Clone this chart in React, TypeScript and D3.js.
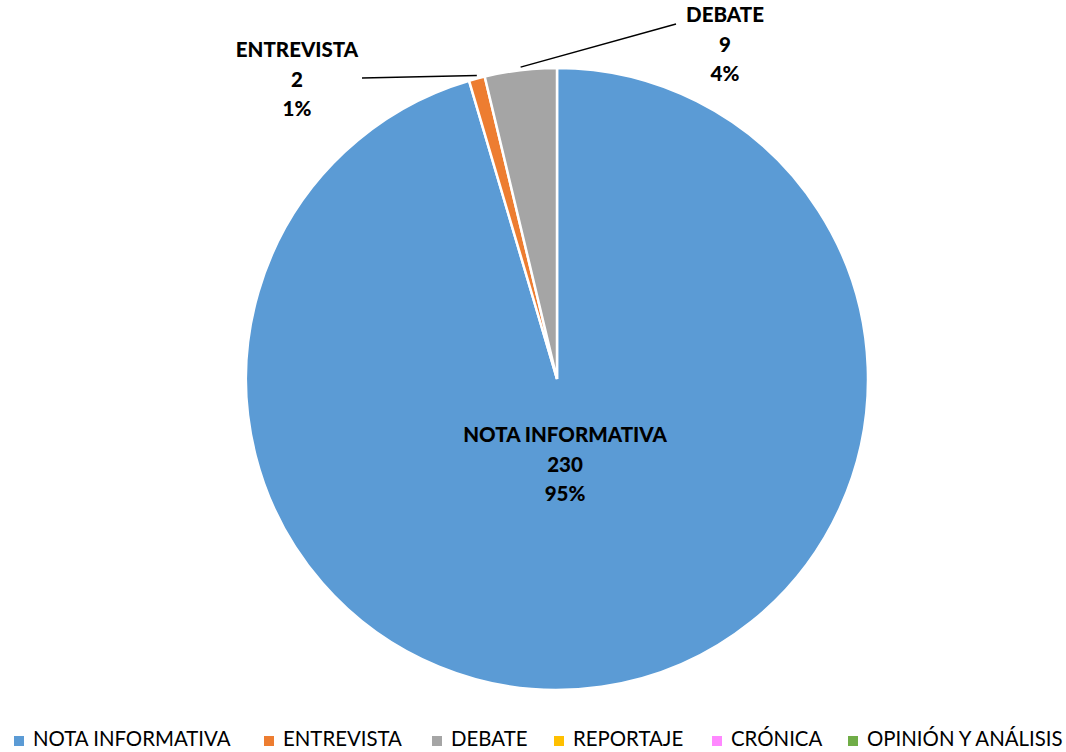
import * as d3 from "d3";
import { FC } from "react";

const categories = ["NOTA INFORMATIVA", "ENTREVISTA", "DEBATE", "REPORTAJE", "CRÓNICA", "OPINIÓN Y ANÁLISIS"];
const values = [230, 2, 9, 0, 0, 0];
const colors = ["#5B9BD5", "#ED7D31", "#A5A5A5", "#FFC000", "#FF88FF", "#70AD47"];

const W = 1066;
const H = 752;
const CX = 557;
const CY = 379;
const R = 311;
const FONT = "Lato, 'Open Sans', sans-serif";

// where the outside labels sit, relative to the pie centre
const labelPos: Record<string, { x: number; y: number; lineEnd: [number, number] }> = {
  ENTREVISTA: { x: 297 - CX, y: 52 - CY, lineEnd: [362 - CX, 78 - CY] },
  DEBATE: { x: 725 - CX, y: 17 - CY, lineEnd: [676 - CX, 24 - CY] },
};

const App: FC = () => {
  const data = categories.map((c, i) => ({ name: c, value: values[i], color: colors[i] }));
  const total = d3.sum(values);
  const pie = d3
    .pie<(typeof data)[number]>()
    .value((d) => d.value)
    .sort(null);
  const arcs = pie(data);
  const arc = d3.arc<d3.PieArcDatum<(typeof data)[number]>>().innerRadius(0).outerRadius(R);
  const edge = d3.arc<d3.PieArcDatum<(typeof data)[number]>>().innerRadius(R).outerRadius(R);
  const pct = (v: number) => `${Math.round((v / total) * 100)}%`;

  const legendX = [14, 264, 432, 554, 712, 848];

  return (
    <svg width={W} height={H} style={{ position: "absolute", left: 0, top: 0, background: "#fff" }}>
      <g transform={`translate(${CX},${CY})`}>
        {arcs
          .filter((a) => a.value > 0)
          .map((a) => (
            <path key={a.data.name} d={arc(a) || ""} fill={a.data.color} stroke="#fff" strokeWidth={2.5} />
          ))}
        {arcs
          .filter((a) => a.value > 0)
          .map((a) => {
            const lp = labelPos[a.data.name];
            const lines = [a.data.name, String(a.value), pct(a.value)];
            if (!lp) {
              return (
                <text key={a.data.name} x={8} y={63} textAnchor="middle" fontFamily={FONT} fontWeight={900} fontSize={20.5}>
                  {lines.map((l, i) => (
                    <tspan key={i} x={8} dy={i === 0 ? 0 : 29.5}>
                      {l}
                    </tspan>
                  ))}
                </text>
              );
            }
            const [ex, ey] = edge.centroid(a);
            return (
              <g key={a.data.name}>
                <polyline
                  points={`${ex},${ey - 3} ${lp.lineEnd[0]},${lp.lineEnd[1]}`}
                  fill="none"
                  stroke="#000"
                  strokeWidth={1.5}
                />
                <text x={lp.x} y={lp.y} textAnchor="middle" fontFamily={FONT} fontWeight={900} fontSize={20.5} dominantBaseline="middle">
                  {lines.map((l, i) => (
                    <tspan key={i} x={lp.x} dy={i === 0 ? 0 : 29.5}>
                      {l}
                    </tspan>
                  ))}
                </text>
              </g>
            );
          })}
      </g>
      <g transform="translate(0,741)">
        {categories.map((c, i) => (
          <g key={c} transform={`translate(${legendX[i]},0)`}>
            <rect x={0} y={-5} width={10} height={10} fill={colors[i]} />
            <text x={19} y={0} dominantBaseline="middle" fontFamily={FONT} fontSize={20.4} fill="#000">
              {c}
            </text>
          </g>
        ))}
      </g>
    </svg>
  );
};

export default App;
